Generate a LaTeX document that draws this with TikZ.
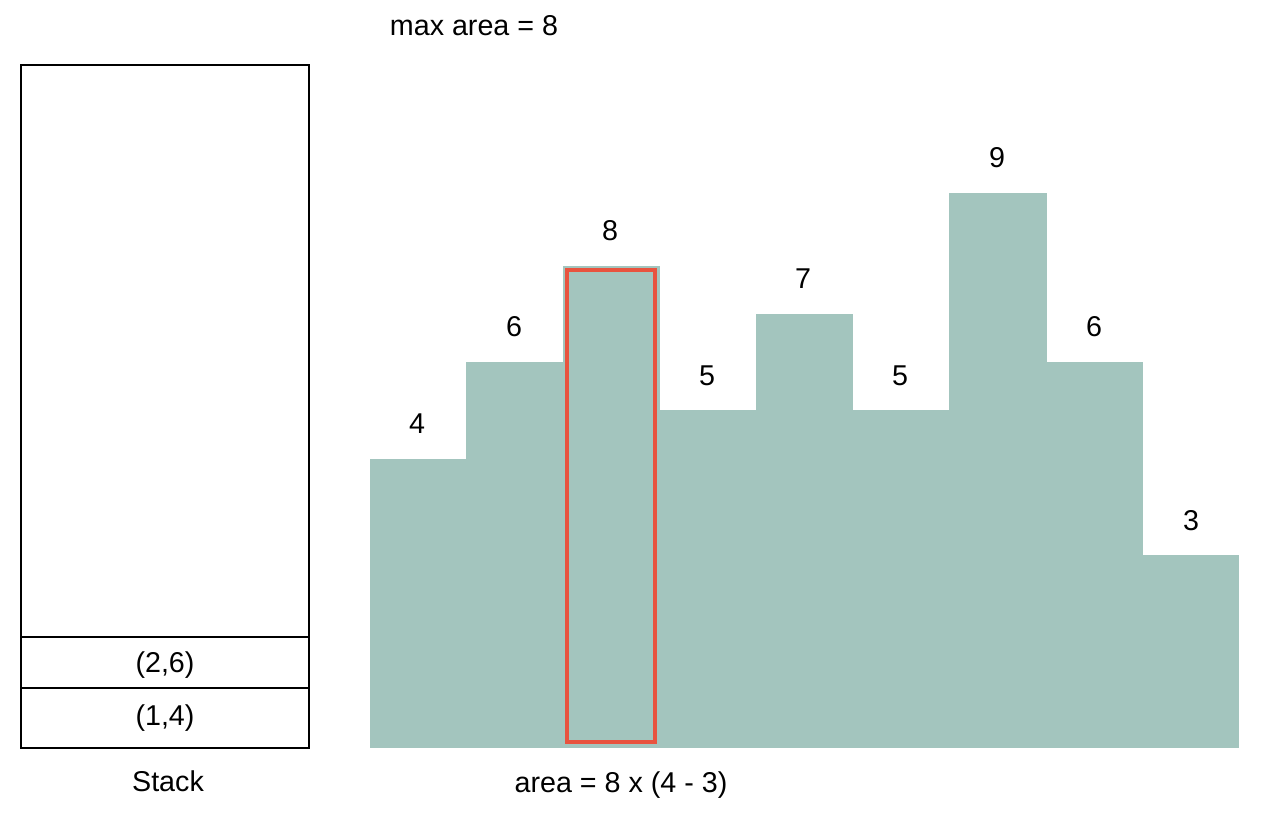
\documentclass[tikz,border=0pt]{standalone}
\usepackage{fontspec}
\setmainfont{Liberation Sans}
\definecolor{barfill}{HTML}{A3C5BE}
\definecolor{hl}{HTML}{E8533F}
\begin{document}
\begin{tikzpicture}[x=0.75pt,y=-0.75pt,
  lbl/.style={inner sep=0pt,font=\fontsize{21.5}{25}\selectfont},
  bar/.style={fill=barfill,draw=none},
  stackline/.style={draw=black,line width=1.5pt}]
\useasboundingbox (0,0) rectangle (1280,827);
% stack
\draw[stackline] (21,65) rectangle (309,748);
\draw[stackline] (21,637) -- (309,637);
\draw[stackline] (21,688) -- (309,688);
\node[lbl] (s2) at (165,665) {(2,6)};
\node[lbl] (s1) at (165,718) {(1,4)};
\node[lbl] (stk) at (168,781) {Stack};
% bars
\fill[bar] (370,459) rectangle (466.5,748);
\fill[bar] (466,362) rectangle (563.5,748);
\fill[bar] (563,266) rectangle (659.5,748);
\fill[bar] (659,410) rectangle (756.5,748);
\fill[bar] (756,314) rectangle (852.5,748);
\fill[bar] (852,410) rectangle (949.5,748);
\fill[bar] (949,193) rectangle (1046.5,748);
\fill[bar] (1046,362) rectangle (1142.5,748);
\fill[bar] (1142,555) rectangle (1239,748);
\node[lbl] (b1) at (417,424) {4};
\node[lbl] (b2) at (514,327) {6};
\node[lbl] (b3) at (610,231) {8};
\node[lbl] (b4) at (707,376) {5};
\node[lbl] (b5) at (803,279) {7};
\node[lbl] (b6) at (900,376) {5};
\node[lbl] (b7) at (997,158) {9};
\node[lbl] (b8) at (1094,327) {6};
\node[lbl] (b9) at (1191,521) {3};
% highlight
\draw[hl,line width=2.3pt] (567,270) rectangle (655,742);
\node[lbl] (mx) at (474,26) {max area = 8};
\node[lbl] (ar) at (621,785) {area = 8 x (4 - 3)};
\end{tikzpicture}
\end{document}
